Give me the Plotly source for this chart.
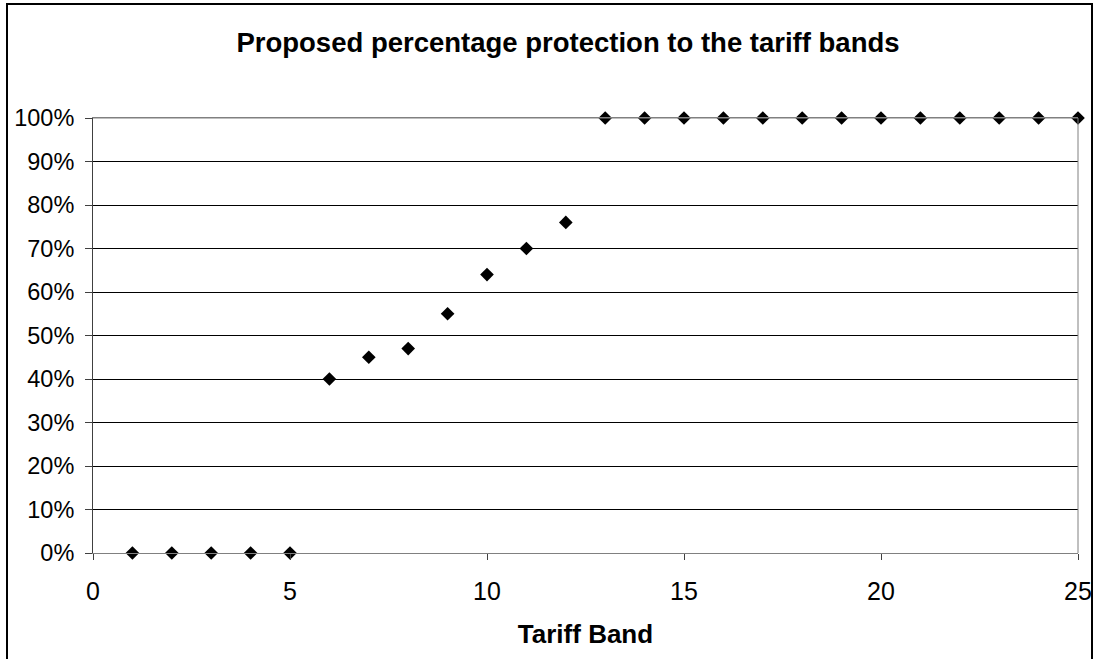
import plotly.graph_objects as go

tariff_band = list(range(1, 26))
protection = [0, 0, 0, 0, 0, 0.40, 0.45, 0.47, 0.55, 0.64, 0.70, 0.76,
              1, 1, 1, 1, 1, 1, 1, 1, 1, 1, 1, 1, 1]

title_text = "Proposed percentage protection to the tariff bands"
x_title = "Tariff Band"

W, H = 1094, 659
L, R, T, B = 93, 1078, 118, 553

fig = go.Figure()
fig.add_trace(go.Scatter(
    x=tariff_band, y=protection, mode="markers",
    marker=dict(symbol="diamond", size=10.5, color="black", line=dict(width=0)),
    cliponaxis=False, showlegend=False,
))

font_family = "Liberation Sans, Arial, sans-serif"

fig.update_layout(
    width=W, height=H, autosize=False,
    margin=dict(l=L, r=W - R, t=T, b=H - B, pad=0),
    paper_bgcolor="white", plot_bgcolor="white",
    font=dict(family=font_family, color="black"),
    title=dict(text="<b>" + title_text + "</b>", x=568 / W, xanchor="center",
               y=1 - 42 / H, yanchor="middle", xref="container", yref="container",
               font=dict(size=27.5, family=font_family, color="black")),
    xaxis=dict(range=[0, 25], dtick=5, tick0=0, showgrid=False, zeroline=False,
               automargin=False,
               showline=True, linecolor="#808080", linewidth=1, mirror=True,
               ticks="outside", ticklen=6, tickcolor="#404040",
               ticklabelstandoff=10,
               tickfont=dict(size=25, family=font_family, color="black"),
               title=dict(text="<b>" + x_title + "</b>", standoff=20,
                          font=dict(size=26, family=font_family, color="black"))),
    yaxis=dict(range=[0, 1], dtick=0.1, tick0=0, tickformat=".0%",
               automargin=False,
               showgrid=True, gridcolor="black", gridwidth=1, zeroline=False,
               showline=True, linecolor="#404040", linewidth=1, mirror=False,
               ticks="outside", ticklen=7, tickcolor="#404040",
               ticklabelstandoff=6,
               tickfont=dict(size=23.5, family=font_family, color="black")),
    shapes=[
        dict(type="rect", xref="paper", yref="paper",
             x0=(7 - L) / (R - L), x1=(1092 - L) / (R - L),
             y0=(B - 665) / (B - T), y1=(B - 4) / (B - T),
             line=dict(color="black", width=2), fillcolor="rgba(0,0,0,0)", layer="below"),
        dict(type="line", xref="paper", yref="paper",
             x0=1, x1=1, y0=0, y1=1, line=dict(color="#808080", width=1)),
        dict(type="line", xref="paper", yref="paper",
             x0=0, x1=1, y0=1, y1=1, line=dict(color="#808080", width=1)),
    ],
)

fig.write_html("out.html", config={"displayModeBar": False},
               post_script="document.body.style.margin='0';document.body.style.overflow='hidden';")
